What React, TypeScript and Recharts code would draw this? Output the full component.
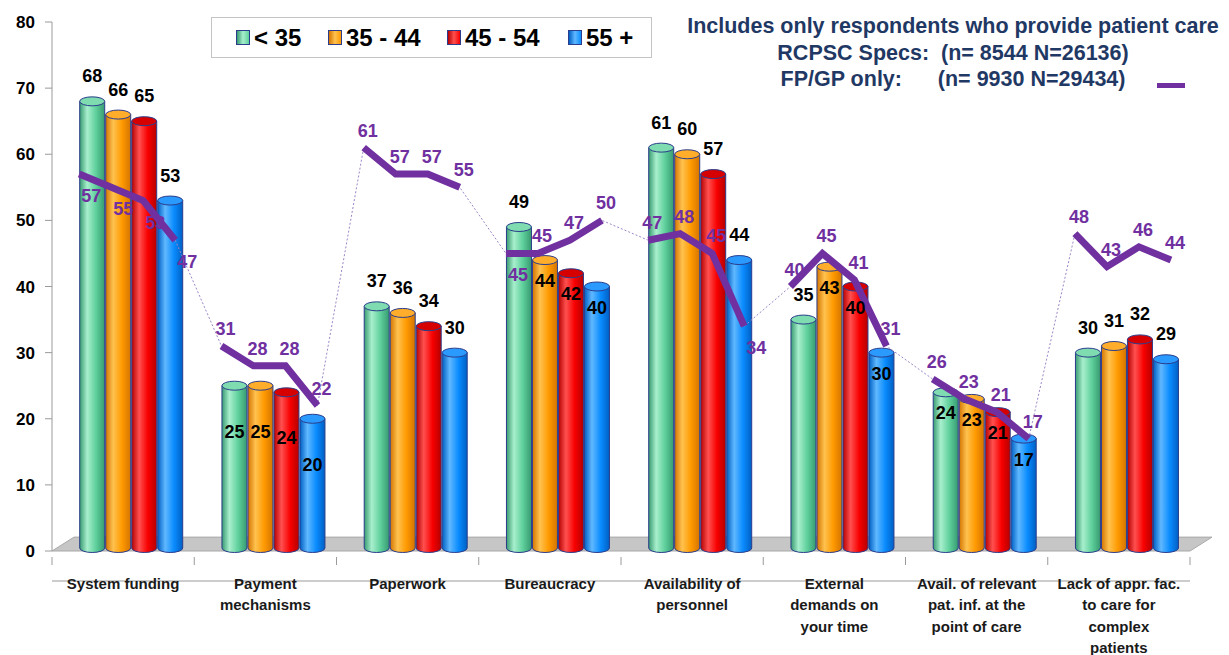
import React from "react";
import {
  ComposedChart,
  Bar,
  Line,
  XAxis,
  YAxis,
  ReferenceArea,
  LabelList,
} from "recharts";

const categories = [
  "System funding",
  "Payment\nmechanisms",
  "Paperwork",
  "Bureaucracy",
  "Availability of\npersonnel",
  "External\ndemands on\nyour time",
  "Avail. of relevant\npat. inf. at the\npoint of care",
  "Lack of appr. fac.\nto care for\ncomplex\npatients",
];

const ageGroups = ["< 35", "35 - 44", "45 - 54", "55 +"];

// RCPSC specialists, % by age group
const under35 = [68, 25, 37, 49, 61, 35, 24, 30];
const age35to44 = [66, 25, 36, 44, 60, 43, 23, 31];
const age45to54 = [65, 24, 34, 42, 57, 40, 21, 32];
const age55plus = [53, 20, 30, 40, 44, 30, 17, 29];

// FP/GP only, % by age group
const fpUnder35 = [57, 31, 61, 45, 47, 40, 26, 48];
const fp35to44 = [55, 28, 57, 45, 48, 45, 23, 43];
const fp45to54 = [53, 28, 57, 47, 45, 41, 21, 46];
const fp55plus = [47, 22, 55, 50, 34, 31, 17, 44];

const yTicks = [0, 10, 20, 30, 40, 50, 60, 70, 80];

const W = 1229;
const H = 655;
const MARGIN = { top: 22, right: 39, bottom: 4, left: 0 };
const Y_AXIS_W = 52;
const BAND = (W - MARGIN.left - MARGIN.right - Y_AXIS_W) / categories.length;
const CAT_GAP = 0.135;
const SHIFT = 8; // 3D depth offset of the cylinders
const LINE_STEP = 32 / BAND;
const FONT = "'Liberation Sans', Arial, sans-serif";
const PURPLE = "#7030A0";
const OUTLINE = "#2b3d8c";

const seriesKeys = ["u35", "a35", "a45", "a55"];
const seriesValues = [under35, age35to44, age45to54, age55plus];
const fpValues = [fpUnder35, fp35to44, fp45to54, fp55plus];

const palette = [
  { main: "#5fd09c", light: "#a8efcd", dark: "#379a70", top: "#7edcb0" },
  { main: "#ff9a00", light: "#ffc24f", dark: "#d47400", top: "#ffad2a" },
  { main: "#f80000", light: "#ff5050", dark: "#b50000", top: "#d60000" },
  { main: "#0a8cff", light: "#60b8ff", dark: "#0060c4", top: "#2a9aff" },
];

const rows = categories.map((name, i) => {
  const r: Record<string, string | number> = { name };
  seriesKeys.forEach((k, s) => (r[k] = seriesValues[s][i]));
  return r;
});

const fpPoints = categories.flatMap((_, i) =>
  fpValues.map((vals, j) => ({
    x: i + CAT_GAP + SHIFT / BAND + j * LINE_STEP,
    v: vals[i],
    cat: i,
  }))
);

const boundaryTicks = [...categories.map((_, i) => i), categories.length];

function Cylinder(props: any) {
  const { x, y, width, height, series } = props;
  if (!height || height <= 0) return null;
  const rx = width / 2 - 0.5;
  const ry = 4.5;
  const left = x + SHIFT + 0.5;
  const right = left + 2 * rx;
  const bottom = y + height - 3;
  return (
    <g>
      <path
        d={`M${left},${y} L${left},${bottom} A${rx},${ry} 0 0 0 ${right},${bottom} L${right},${y} Z`}
        fill={`url(#cyl-${series})`}
        stroke={OUTLINE}
        strokeWidth={1}
      />
      <ellipse
        cx={left + rx}
        cy={y}
        rx={rx}
        ry={ry}
        fill={palette[series].top}
        stroke={OUTLINE}
        strokeWidth={1}
      />
    </g>
  );
}

const labelInside = (cat: number, series: number) =>
  cat === 1 || cat === 6 || ((cat === 3 || cat === 5) && series > 0);

const barLabel = (series: number) => (p: any) => {
  const { x, y, width, value, index } = p;
  const inside = labelInside(index, series);
  const ty = inside ? y + (index === 1 ? 46 : 21) : y - 25;
  return (
    <text
      x={x + SHIFT + width / 2}
      y={ty}
      textAnchor="middle"
      dominantBaseline="central"
      fontFamily={FONT}
      fontWeight="bold"
      fontSize={18}
      fill="#000"
    >
      {value}
    </text>
  );
};

const fpLabel = (cat: number) => (p: any) => {
  const { x, y, value, index } = p;
  const below = cat === 0 || (cat === 3 && index === 0) || (cat === 4 && index === 3);
  return (
    <text
      x={x + (below ? 12 : 4)}
      y={y + (below ? 22 : -17)}
      textAnchor="middle"
      dominantBaseline="central"
      fontFamily={FONT}
      fontWeight="bold"
      fontSize={18}
      fill={PURPLE}
    >
      {value}
    </text>
  );
};

function XTick(p: any) {
  const { x, y, payload } = p;
  const k = payload.value;
  const lines = k < categories.length ? categories[k].split("\n") : [];
  const cx = x + BAND / 2;
  // y arrives ~32px below the axis line
  const axisY = y - 32;
  return (
    <g>
      <line x1={x} x2={x} y1={axisY} y2={axisY + 8} stroke="#9a9a9a" />
      {lines.length > 0 && (
        <text
          x={cx}
          y={axisY + 32}
          textAnchor="middle"
          fontFamily={FONT}
          fontWeight="bold"
          fontSize={15}
          fill="#1a1a1a"
        >
          {lines.map((l, n) => (
            <tspan key={n} x={cx} dy={n === 0 ? 0 : 21.3}>
              {l}
            </tspan>
          ))}
        </text>
      )}
    </g>
  );
}

function Floor(p: any) {
  const { x, y, width, height } = p;
  const d = 22;
  return (
    <polygon
      points={`${x},${y + height} ${x + width},${y + height} ${x + width + d},${y} ${x + d},${y}`}
      fill="#c6c6c6"
      stroke="#a8a8a8"
      strokeWidth={1}
    />
  );
}

const legendX = [25, 117, 236, 357];

export default function App() {
  return (
    <div
      style={{
        position: "absolute",
        left: 0,
        top: 0,
        width: W,
        height: H,
        background: "#fff",
        fontFamily: FONT,
      }}
    >
      <ComposedChart
        width={W}
        height={H}
        data={rows}
        margin={MARGIN}
        barGap={0}
        barCategoryGap={`${CAT_GAP * 100}%`}
      >
        <defs>
          {palette.map((c, s) => (
            <linearGradient key={s} id={`cyl-${s}`} x1="0" x2="1" y1="0" y2="0">
              <stop offset="0%" stopColor={c.dark} />
              <stop offset="30%" stopColor={c.light} />
              <stop offset="65%" stopColor={c.main} />
              <stop offset="100%" stopColor={c.dark} />
            </linearGradient>
          ))}
        </defs>
        <XAxis xAxisId="cat" dataKey="name" hide />
        <XAxis
          xAxisId="line"
          type="number"
          dataKey="x"
          domain={[0, categories.length]}
          allowDataOverflow
          ticks={boundaryTicks}
          interval={0}
          tick={<XTick />}
          tickLine={false}
          tickSize={8}
          tickMargin={0}
          axisLine={{ stroke: "#9a9a9a" }}
          height={100}
        />
        <YAxis
          domain={[0, 80]}
          ticks={yTicks}
          width={Y_AXIS_W}
          tickSize={7}
          tickMargin={10}
          axisLine={{ stroke: "#9a9a9a" }}
          tickLine={{ stroke: "#9a9a9a" }}
          tick={{ fontSize: 17, fontWeight: "bold", fill: "#000", fontFamily: FONT }}
        />
        <ReferenceArea
          xAxisId="line"
          x1={0}
          x2={categories.length}
          y1={0}
          y2={2.1}
          ifOverflow="visible"
          shape={<Floor />}
        />
        {seriesKeys.map((k, s) => (
          <Bar
            key={k}
            xAxisId="cat"
            dataKey={k}
            name={ageGroups[s]}
            fill={palette[s].main}
            isAnimationActive={false}
            shape={(p: any) => <Cylinder {...p} series={s} />}
          >
            <LabelList dataKey={k} content={barLabel(s)} />
          </Bar>
        ))}
        <Line
          xAxisId="line"
          data={fpPoints}
          dataKey="v"
          stroke="#9c86c9"
          strokeWidth={1}
          strokeDasharray="2 2"
          dot={false}
          activeDot={false}
          isAnimationActive={false}
          legendType="none"
        />
        {categories.map((_, i) => (
          <Line
            key={`fp-${i}`}
            xAxisId="line"
            data={fpPoints.filter((p) => p.cat === i)}
            dataKey="v"
            stroke={PURPLE}
            strokeWidth={7}
            dot={false}
            activeDot={false}
            isAnimationActive={false}
            legendType="none"
          >
            <LabelList dataKey="v" content={fpLabel(i)} />
          </Line>
        ))}
      </ComposedChart>

      <div
        style={{
          position: "absolute",
          left: 211,
          top: 17,
          width: 441,
          height: 41,
          boxSizing: "border-box",
          border: "1px solid #c4c4c4",
          background: "#fff",
          fontWeight: "bold",
          fontSize: 24,
          color: "#000",
        }}
      >
        {ageGroups.map((g, s) => (
          <div
            key={g}
            style={{
              position: "absolute",
              left: legendX[s] - 1,
              top: 0,
              height: 39,
              display: "flex",
              alignItems: "center",
            }}
          >
            <span
              style={{
                display: "inline-block",
                width: 12,
                height: 13,
                border: `1px solid ${OUTLINE}`,
                background: `linear-gradient(90deg, ${palette[s].dark}, ${palette[s].light}, ${palette[s].main})`,
                marginRight: 4,
              }}
            />
            <span>{g}</span>
          </div>
        ))}
      </div>

      <div
        style={{
          position: "absolute",
          left: 668,
          top: 13,
          width: 570,
          textAlign: "center",
          color: "#1f3864",
          fontWeight: "bold",
          fontSize: 21.5,
          lineHeight: "26.5px",
          whiteSpace: "pre",
        }}
      >
        <div>Includes only respondents who provide patient care</div>
        <div>RCPSC Specs:  (n= 8544 N=26136)</div>
        <div>FP/GP only:      (n= 9930 N=29434)</div>
      </div>
      <div
        style={{
          position: "absolute",
          left: 1157,
          top: 83,
          width: 28,
          height: 5,
          background: PURPLE,
        }}
      />
    </div>
  );
}
